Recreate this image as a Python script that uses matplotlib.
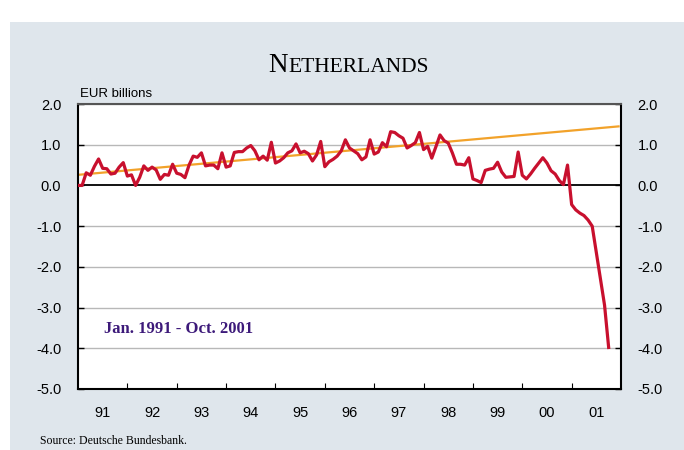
import matplotlib.pyplot as plt
import matplotlib.patches as mpatches
import numpy as np

# monthly values, Jan 1991 - Oct 2001 (EUR billions)
start_year = 1991
values = [
    0.0, 0.0, 0.31, 0.25, 0.47, 0.65, 0.42, 0.41, 0.28, 0.30, 0.45, 0.56,
    0.23, 0.26, 0.0, 0.20, 0.48, 0.37, 0.45, 0.38, 0.15, 0.27, 0.25, 0.52,
    0.30, 0.27, 0.19, 0.50, 0.72, 0.69, 0.80, 0.48, 0.50, 0.50, 0.41, 0.80,
    0.45, 0.48, 0.81, 0.83, 0.83, 0.92, 0.98, 0.85, 0.63, 0.72, 0.62, 1.06,
    0.55, 0.60, 0.68, 0.80, 0.85, 1.02, 0.80, 0.84, 0.78, 0.60, 0.75, 1.08,
    0.46, 0.58, 0.64, 0.72, 0.85, 1.12, 0.92, 0.85, 0.78, 0.63, 0.70, 1.12,
    0.77, 0.82, 1.05, 0.95, 1.32, 1.30, 1.22, 1.16, 0.92, 0.98, 1.05, 1.30,
    0.88, 0.96, 0.67, 0.95, 1.24, 1.10, 1.04, 0.80, 0.52, 0.52, 0.50, 0.68,
    0.16, 0.12, 0.07, 0.37, 0.40, 0.42, 0.57, 0.33, 0.20, 0.21, 0.22, 0.82,
    0.25, 0.16, 0.28, 0.42, 0.55, 0.68, 0.55, 0.36, 0.28, 0.12, 0.02, 0.50,
    -0.47, -0.60, -0.68, -0.74, -0.85, -1.00, -1.65, -2.30, -2.94, -3.98,
]
trend_x = [1991.0, 2001.95]
trend_y = [0.26, 1.45]
year_labels = ["91", "92", "93", "94", "95", "96", "97", "98", "99", "00", "01"]
y_ticks = [2, 1, 0, -1, -2, -3, -4, -5]

dates = start_year + np.arange(len(values)) / 12.0

bg = "#dfe6ec"
red = "#c8102e"
orange = "#f2a22a"

fig = plt.figure(figsize=(6.84, 4.5), dpi=100)
fig.patch.set_facecolor("white")
fig.patches.append(mpatches.Rectangle((10 / 684, 0), 674 / 684, 428 / 450,
                                      transform=fig.transFigure, facecolor=bg,
                                      edgecolor="none", zorder=-10))

ax = fig.add_axes([78 / 684, 61 / 450, 543 / 684, 285 / 450])
ax.set_facecolor("white")

for y in y_ticks:
    if y == 0:
        ax.axhline(y, color="black", lw=1.3, zorder=1)
    else:
        ax.axhline(y, color="#b8b8b8", lw=1.0, zorder=1)

ax.plot(trend_x, trend_y, color=orange, lw=1.6, zorder=2)
ax.plot(dates, values, color=red, lw=2.3, zorder=3, solid_joinstyle="round")

ax.set_xlim(1991, 2002)
ax.set_ylim(-5, 2)

# year boundaries as ticks, labels at mid-year
ax.set_xticks(np.arange(1992, 2002))
ax.set_xticklabels([])
ax.set_xticks(np.arange(1991, 2002) + 0.5, minor=True)
ax.set_xticklabels(year_labels, minor=True, fontsize=10.5, family="Liberation Sans")
ax.tick_params(axis="x", which="major", direction="in", length=4, width=0.8)
ax.tick_params(axis="x", which="minor", length=0, pad=12)

ax.set_yticks(y_ticks)
ax.set_yticklabels(["%.1f" % v for v in y_ticks], fontsize=10.5, family="Liberation Sans")
ax.tick_params(axis="y", direction="in", length=4, width=1.0, left=True, right=True,
               labelleft=True, labelright=True, pad=12)

for s in ax.spines.values():
    s.set_linewidth(1.5)
    s.set_color("black")
ax.spines["top"].set_color("#555555")

ax.text(0.003, 1.015, "EUR billions", transform=ax.transAxes, fontsize=9.5,
        family="Liberation Sans", ha="left", va="bottom")

ax.text(1991.53, -3.53, "Jan. 1991 - Oct. 2001", fontsize=12, fontweight="bold",
        family="Liberation Serif", color="#3d1a7a", ha="left", va="center")

# small-caps style title
fig.text(288 / 684, 1 - 72 / 450, "N", fontsize=19.5, family="Liberation Serif",
         ha="right", va="baseline")
fig.text(288 / 684, 1 - 72 / 450, "ETHERLANDS", fontsize=15.5, family="Liberation Serif",
         ha="left", va="baseline")

fig.text(40 / 684, 1 - 444 / 450, "Source: Deutsche Bundesbank.", fontsize=8.5,
         family="Liberation Serif", ha="left", va="baseline")

plt.savefig("out.png", dpi=100)
plt.close("all")
